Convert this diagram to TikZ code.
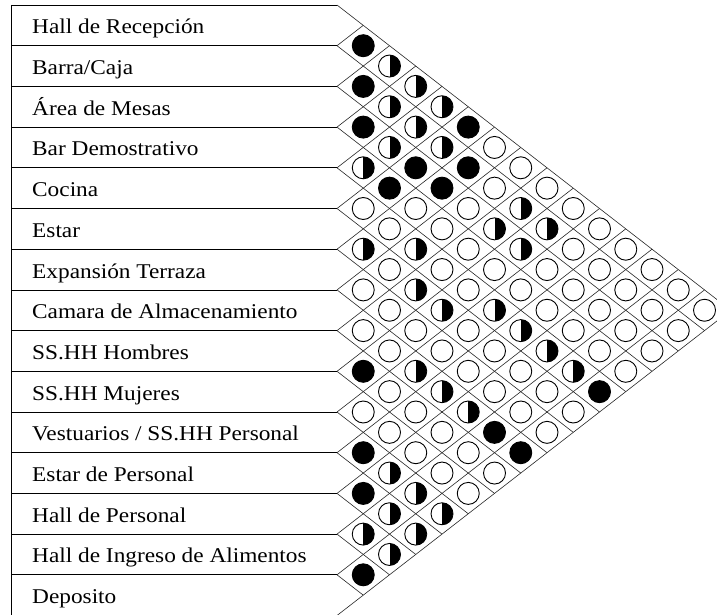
\documentclass[tikz,border=0pt]{standalone}
\usepackage{fontspec}
\setmainfont{Liberation Serif}
\usepackage{graphicx}
\begin{document}
\begin{tikzpicture}[x=1pt,y=-1pt,
  boxline/.style={line width=0.8pt, black},
  gridline/.style={line width=0.6pt, black!85},
  sym/.style={circle, draw=black, line width=0.9pt, minimum size=22pt, inner sep=0pt, fill=white},
  s0/.style={sym},
  s1/.style={sym, path picture={\fill[black] (path picture bounding box.north) rectangle (path picture bounding box.south east);}},
  s2/.style={sym, fill=black},
  lbl/.style={anchor=base west, inner sep=0pt, font=\fontsize{21}{24}\selectfont}]
\def\xo{337}\def\h{40.7}\def\yt{5}\def\s{1.29}
\useasboundingbox (0,0) rectangle (717,615);
\begin{scope}
\clip (0,0) rectangle (717,615);
\pgfmathsetmacro\bl{\yt+15*\h}
% boundary points
\foreach \k in {0,...,15} {
  \pgfmathsetmacro\bk{\yt+\h*\k}
  \coordinate (b\k) at (\xo,\bk);
  \coordinate (l\k) at (11,\bk);
  \pgfmathsetmacro\dx{\xo+\s*(\bl-\bk)/2}
  \pgfmathsetmacro\dy{(\bk+\bl)/2}
  \coordinate (d\k) at (\dx,\dy);
  \pgfmathsetmacro\ux{\xo+\s*(\bk-\yt)/2}
  \pgfmathsetmacro\uy{(\bk+\yt)/2}
  \coordinate (u\k) at (\ux,\uy);
}
\foreach \k in {0,...,15} {
  \draw[gridline] (b\k) -- (d\k);
  \draw[gridline] (b\k) -- (u\k);
  \draw[boxline] (l\k) -- (b\k);
}
\draw[boxline] (l0) -- (l15);
% labels
\foreach \i/\t in {1/{Hall de Recepción}, 2/{Barra/Caja}, 3/{Área de Mesas}, 4/{Bar Demostrativo}, 5/{Cocina}, 6/{Estar}, 7/{Expansión Terraza}, 8/{Camara de Almacenamiento}, 9/{SS.HH Hombres}, 10/{SS.HH Mujeres}, 11/{Vestuarios / SS.HH Personal}, 12/{Estar de Personal}, 13/{Hall de Personal}, 14/{Hall de Ingreso de Alimentos}, 15/{Deposito}} {
  \pgfmathsetmacro\ty{\yt+\h*(\i-0.5)+8.5}
  \node[lbl] (t\i) at (32,\ty) {\scalebox{1.11}[1]{\t}};
}
% symbols
\foreach \i/\codes in {
  1/{2,1,1,1,2,0,0,0,0,0,0,0,0,0},
  2/{2,1,1,1,2,0,1,1,0,0,0,0,0},
  3/{2,1,2,2,0,1,1,0,0,0,0,0},
  4/{1,2,0,0,0,0,0,0,0,0,0},
  5/{0,0,1,0,0,1,1,1,1,2},
  6/{1,0,1,1,0,0,0,0,0},
  7/{0,0,0,0,0,0,0,0},
  8/{0,0,1,1,1,2,2},
  9/{2,0,0,0,0,0},
  10/{0,0,0,0,0},
  11/{2,1,1,1},
  12/{2,1,1},
  13/{1,1},
  14/{2}} {
  \foreach \c [count=\n] in \codes {
    \pgfmathtruncatemacro\j{\i+\n}
    \pgfmathsetmacro\px{\xo+\s*\h*\n/2}
    \pgfmathsetmacro\py{\yt+\h*(\i+\j-1)/2}
    \node[s\c] (p\i-\j) at (\px,\py) {};
  }
}
\end{scope}
\end{tikzpicture}
\end{document}
